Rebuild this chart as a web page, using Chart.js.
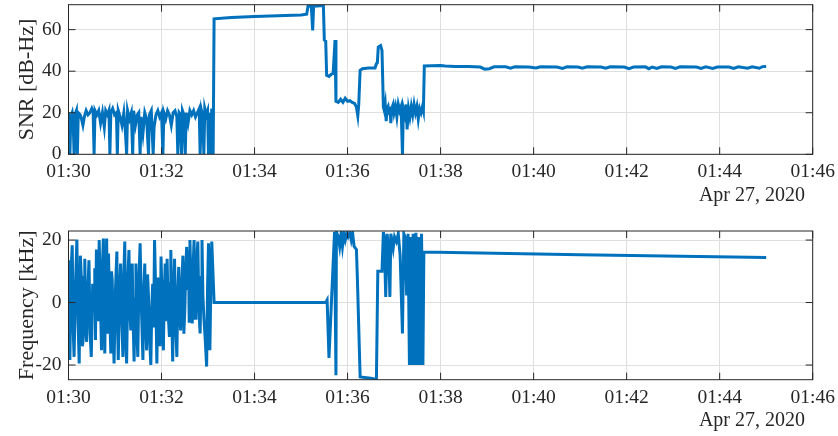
<!DOCTYPE html>
<html>
<head>
<meta charset="utf-8">
<script src="https://cdn.jsdelivr.net/npm/chart.js@4.4.1/dist/chart.umd.min.js"></script>
<style>
  html, body { margin: 0; padding: 0; background: #fff; }
  #wrap { position: relative; width: 838px; height: 436px; }
  canvas { position: absolute; left: 0; }
</style>
</head>
<body>
<div id="wrap">
  <canvas id="snrChart" width="838" height="218" style="top:0"></canvas>
  <canvas id="freqChart" width="838" height="218" style="top:218px"></canvas>
</div>
<script>
// time in minutes of the day (90 = 01:30)
const timeTicks = [90, 92, 94, 96, 98, 100, 102, 104, 106];
const timeLabels = ['01:30', '01:32', '01:34', '01:36', '01:38', '01:40', '01:42', '01:44', '01:46'];
const dateLabel = 'Apr 27, 2020';

const snrTicks = [0, 20, 40, 60];
const freqTicks = [-20, 0, 20];

const snrTime = [
  90.00, 90.02, 90.03, 90.05, 90.08, 90.10, 90.12, 90.14, 90.17, 90.19, 90.21, 90.25, 90.28, 90.31, 90.34,
  90.38, 90.42, 90.46, 90.50, 90.53, 90.55, 90.57, 90.61, 90.65, 90.69, 90.73, 90.77, 90.80, 90.84, 90.87,
  90.89, 90.91, 90.95, 90.99, 91.03, 91.05, 91.07, 91.11, 91.15, 91.19, 91.22, 91.25, 91.27, 91.31, 91.35,
  91.38, 91.40, 91.44, 91.48, 91.51, 91.54, 91.56, 91.60, 91.64, 91.68, 91.72, 91.74, 91.78, 91.82, 91.84,
  91.88, 91.92, 91.96, 92.00, 92.03, 92.05, 92.09, 92.13, 92.17, 92.21, 92.25, 92.29, 92.33, 92.35, 92.38,
  92.41, 92.43, 92.45, 92.48, 92.51, 92.53, 92.57, 92.61, 92.65, 92.69, 92.73, 92.77, 92.81, 92.83, 92.86,
  92.89, 92.91, 92.93, 92.96, 92.99, 93.01, 93.03, 93.06, 93.08, 93.11,
  93.13, 93.50, 94.00, 94.50, 95.00, 95.12, 95.15, 95.22, 95.25, 95.27, 95.48, 95.50, 95.53, 95.55, 95.60,
  95.65, 95.69, 95.73, 95.75, 95.80, 95.85, 95.90, 95.95, 96.00, 96.05, 96.10, 96.15, 96.19, 96.22, 96.24,
  96.27, 96.32, 96.45, 96.59, 96.62, 96.64, 96.66, 96.71, 96.74, 96.77,
  96.79, 96.81, 96.83, 96.85, 96.87, 96.89, 96.91, 96.93, 96.95, 96.98, 97.00, 97.03, 97.06, 97.09, 97.12,
  97.15, 97.18, 97.20, 97.23, 97.26, 97.28, 97.31, 97.34, 97.37, 97.40, 97.43, 97.46, 97.49, 97.52, 97.55,
  97.58, 97.61, 97.63,
  97.65, 97.80, 98.00, 98.10, 98.30, 98.60, 98.85, 98.95, 99.05, 99.15, 99.40, 99.50, 99.60, 99.90, 100.05,
  100.15, 100.50, 100.62, 100.72, 100.95, 101.05, 101.15, 101.45, 101.55, 101.65, 101.95, 102.05, 102.15, 102.40, 102.48,
  102.55, 102.65, 102.75, 102.95, 103.05, 103.15, 103.50, 103.60, 103.70, 103.85, 103.95, 104.20, 104.30, 104.40, 104.60,
  104.70, 104.85, 104.92, 105.00
];
const snrValue = [
  20, 13, 0, 18, 20, 16, 0, 19, 21, 0, 20, 19, 17, 14, 18,
  21, 19, 20, 22, 20, 0, 21, 19, 21, 15, 20, 13, 21, 19, 21,
  0, 20, 22, 19, 20, 0, 21, 18, 14, 20, 12, 0, 21, 17, 20,
  0, 21, 14, 19, 20, 0, 18, 10, 20, 17, 0, 19, 21, 0, 13,
  19, 21, 18, 20, 0, 20, 17, 21, 19, 14, 20, 21, 18, 0, 20,
  19, 0, 21, 19, 0, 20, 15, 21, 19, 21, 18, 20, 22, 0, 21,
  18, 0, 22, 19, 21, 0, 20, 0, 22, 0,
  65.2, 65.8, 66.3, 66.7, 67.0, 67.4, 71.3, 71.2, 59.6, 71.3, 71.6, 55, 54.5, 38, 37.5,
  38.5, 39, 55, 25.5, 25, 26.5, 25, 27, 25.5, 25.8, 25, 24.5, 22.8, 18.5, 24,
  40.4, 41.2, 41.5, 41.5, 43.6, 44, 51.6, 52.3, 50, 22.8,
  21, 24, 16, 22, 23, 19, 23, 15, 22, 24, 20, 23, 18, 24, 21,
  23, 0, 22, 19, 24, 12, 22, 18, 23, 19, 24, 20, 23, 17, 22,
  20, 23, 21,
  42.5, 42.6, 42.7, 42.5, 42.3, 42.2, 42.0, 41.0, 41.2, 42.1, 42.1, 41.4, 42.1, 42.0, 41.5,
  42.1, 42.0, 41.3, 42.1, 42.0, 41.4, 42.1, 42.0, 41.4, 42.1, 42.0, 41.2, 42.0, 42.1, 41.2,
  42.0, 41.3, 42.1, 42.0, 41.3, 42.1, 42.0, 41.3, 42.1, 41.3, 42.0, 42.0, 41.3, 42.1, 41.4,
  42.1, 41.4, 42.2, 42.3
];

const freqTime = [
  90.00, 90.015, 90.03, 90.055, 90.08, 90.10, 90.12, 90.15, 90.18, 90.205, 90.23, 90.255, 90.28, 90.30, 90.32,
  90.335, 90.35, 90.37, 90.39, 90.415, 90.44, 90.465, 90.49, 90.52, 90.55, 90.565, 90.58, 90.60, 90.62, 90.64,
  90.66, 90.685, 90.71, 90.73, 90.75, 90.765, 90.78, 90.80, 90.82, 90.84, 90.86, 90.885, 90.91, 90.925, 90.94,
  90.96, 90.98, 91.01, 91.04, 91.055, 91.07, 91.095, 91.12, 91.145, 91.17, 91.19, 91.21, 91.23, 91.25, 91.275,
  91.30, 91.32, 91.34, 91.355, 91.37, 91.39, 91.41, 91.43, 91.45, 91.47, 91.49, 91.515, 91.54, 91.57, 91.60,
  91.62, 91.64, 91.66, 91.68, 91.70, 91.72, 91.745, 91.77, 91.79, 91.81, 91.83, 91.85, 91.875, 91.90, 91.925,
  91.95, 91.97, 91.99, 92.015, 92.04, 92.06, 92.08, 92.10, 92.12, 92.145, 92.17, 92.185, 92.20, 92.22, 92.24,
  92.26, 92.28, 92.305, 92.33, 92.35, 92.37, 92.39, 92.41, 92.435, 92.46, 92.48, 92.50, 92.52, 92.54, 92.56,
  92.58, 92.595, 92.61, 92.635, 92.66, 92.68, 92.70, 92.72, 92.74, 92.76, 92.78, 92.805, 92.83, 92.85, 92.87,
  92.89, 92.91, 92.94, 92.97, 92.99, 93.01, 93.025, 93.04, 93.06, 93.08, 93.13,
  95.53, 95.56, 95.60, 95.72, 95.75, 95.76, 95.80, 95.83, 95.86, 95.89, 95.92, 95.95, 95.98, 96.01, 96.05,
  96.08, 96.11, 96.14, 96.19, 96.21, 96.27, 96.50, 96.62, 96.65, 96.74, 96.77,
  96.79, 96.82, 96.85, 96.88, 96.91, 96.93, 96.98, 97.01, 97.05, 97.09, 97.13, 97.18, 97.21, 97.24, 97.27,
  97.30, 97.33, 97.36, 97.38, 97.41, 97.44, 97.47, 97.50, 97.53, 97.56, 97.59, 97.62, 97.64,
  101.00, 105.00
];
const freqValue = [
  13.5, -5, -18.4, 10, 18.3, -8, -17.4, 5, 20.2, -6, -19.5, 15, 6.6, -14, -11,
  8, 14, -4, -12.6, 3, 13.5, -10, -17.4, 6, -2.5, 11, -12, 17, 9.3, -6,
  20, 1, -15.3, 12, 20.5, -4, -16.3, 8, 20.5, -10, 15.7, -3, -16.3, 10, 7.2,
  -9, -19.5, 4, 16.3, -7, -18.4, 2, 12.5, -5, -17.4, 9, 19.5, -12, -19.5, 7,
  16.8, -3, -8.9, 5, 12.5, -6, -18.9, 1, 12.5, -9, -17.4, 8, 19, -3, -18.4,
  4, 12.5, -7, -15.3, 9, 1.8, -12, -20, -2, 6, -8, 20, 3, -19.5, 8,
  -3.5, -14, 14.7, -2, -15.3, 4, 12.5, -6, 14, -4, -11, 6, 16.8, -4, -18.9,
  2, 14, -8, -17.4, 3, 11.4, -3, -8.9, 6, 15, -10, -2.5, 10, 17.8, 4,
  16.8, -6, 20, 5, -6.7, 12, 20, -5, 1.8, 14, 19.5, -3, -9.9, 8, 20,
  2, -4.6, -12, -20.5, 5, 19, -4, -15.3, 6, 19.5, 0,
  0, 0.8, -17.7, 22.6, -23.3, 22.6, 21, 18, 22, 18, 22, 20, 22, 21, 22.5,
  20, 22, 18, 17, 8.2, -23.8, -24.2, -24.6, 10, 10, 22.6,
  20.5, 1.8, 22, 17.8, 1.8, 22, 17.3, 21, 19.5, 22, 15, -9.9, 22, 20.8, 2.3,
  22, -20, 21, -20, 22, -20, 22.3, -20, 21, -20, 22, -20, 16.2,
  15.3, 14.4
];

const ink = '#262626';
const serif = '"Liberation Serif", "Times New Roman", serif';

// MATLAB style box, inward tick marks and the date under the time axis
const matlabBox = {
  id: 'matlabBox',
  afterDraw(chart) {
    const { ctx, chartArea: a, scales } = chart;
    const x = scales.x, y = scales.y;
    ctx.save();
    ctx.strokeStyle = ink;
    ctx.lineWidth = 1;
    ctx.strokeRect(a.left, a.top, a.right - a.left, a.bottom - a.top);
    ctx.beginPath();
    x.ticks.forEach(t => {
      const px = x.getPixelForValue(t.value);
      ctx.moveTo(px, a.bottom); ctx.lineTo(px, a.bottom - 7);
      ctx.moveTo(px, a.top); ctx.lineTo(px, a.top + 7);
    });
    y.ticks.forEach(t => {
      const py = y.getPixelForValue(t.value);
      ctx.moveTo(a.left, py); ctx.lineTo(a.left + 7, py);
      ctx.moveTo(a.right, py); ctx.lineTo(a.right - 7, py);
    });
    ctx.stroke();
    ctx.fillStyle = ink;
    ctx.font = '20px ' + serif;
    ctx.textAlign = 'right';
    ctx.textBaseline = 'middle';
    ctx.fillText(dateLabel, 805, a.bottom + 41);
    ctx.restore();
  }
};

function makeChart(id, times, values, yMin, yMax, yTicks, yTitle, padTop, plotBottom) {
  const H = 218;
  return new Chart(document.getElementById(id).getContext('2d'), {
    type: 'line',
    data: {
      datasets: [{
        data: times.map((t, i) => ({ x: t, y: values[i] })),
        borderColor: '#0072BD',
        borderWidth: 3,
        pointRadius: 0,
        tension: 0,
        fill: false
      }]
    },
    options: {
      responsive: false,
      animation: false,
      parsing: false,
      layout: { padding: { left: 0, right: 25.3, top: padTop, bottom: 0 } },
      plugins: { legend: { display: false }, tooltip: { enabled: false } },
      scales: {
        x: {
          type: 'linear',
          min: 90,
          max: 106,
          afterBuildTicks: s => { s.ticks = timeTicks.map(v => ({ value: v })); },
          afterFit: s => { s.height = H - plotBottom; s.paddingLeft = 0; s.paddingRight = 0; },
          grid: { color: '#dfdfdf', drawTicks: false },
          border: { display: false },
          ticks: {
            color: ink,
            padding: 6,
            maxRotation: 0,
            font: { family: serif, size: 19.5 },
            callback: v => timeLabels[timeTicks.indexOf(v)]
          }
        },
        y: {
          type: 'linear',
          min: yMin,
          max: yMax,
          afterBuildTicks: s => { s.ticks = yTicks.map(v => ({ value: v })); },
          afterFit: s => { s.width = 68.5; s.paddingTop = 0; s.paddingBottom = 0; },
          grid: { color: '#dfdfdf', drawTicks: false },
          border: { display: false },
          ticks: {
            color: ink,
            padding: 7,
            font: { family: serif, size: 19.5 }
          },
          title: {
            display: true,
            text: yTitle,
            color: ink,
            padding: { top: 14, bottom: 0 },
            font: { family: serif, size: 22 }
          }
        }
      }
    },
    plugins: [matlabBox]
  });
}

makeChart('snrChart', snrTime, snrValue, 0, 72, snrTicks, 'SNR [dB-Hz]', 4.7, 154.3);
makeChart('freqChart', freqTime, freqValue, -24.7, 22.9, freqTicks, 'Frequency [kHz]', 13, 161.7);
</script>
</body>
</html>
